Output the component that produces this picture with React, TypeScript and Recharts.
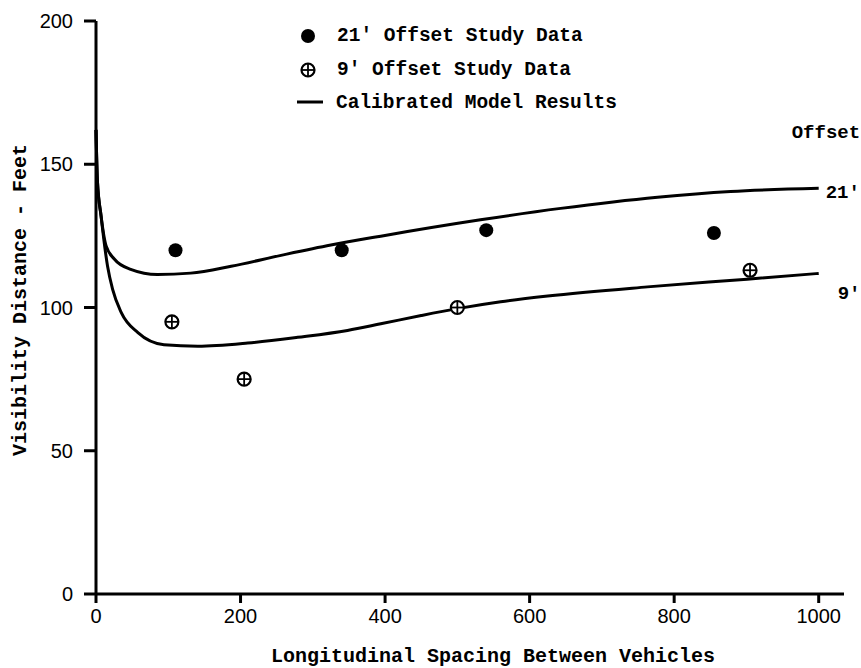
import { ComposedChart, Line, Scatter, XAxis, YAxis, Legend } from "recharts";

// x = longitudinal spacing between vehicles (ft), y = visibility distance (ft)
const xTicks = [0, 200, 400, 600, 800, 1000];
const yTicks = [0, 50, 100, 150, 200];

// calibrated model results
const model21: [number, number][] = [
    [0, 162], [2, 144], [7, 132], [14, 121.5], [25, 117], [48, 113.3], [85, 111.5],
    [131, 112.0], [187, 114.4], [256, 118.2], [325, 121.8], [394, 124.9], [532, 130.6],
    [643, 134.6], [777, 138.5], [878, 140.5], [1000, 141.6],
];
const model9: [number, number][] = [
    [0, 162], [2, 144], [7, 132], [16, 114.4], [23, 106.3], [35, 98.2], [58, 91.2],
    [94, 87], [141, 86.5], [210, 87.6], [279, 89.6], [348, 92.0], [394, 94.3],
    [450, 97.2], [500, 99.6], [560, 102.0], [625, 104.0], [763, 107.2], [901, 109.9], [1000, 111.9],
];

// study data
const study21: [number, number][] = [[110, 120], [340, 120], [540, 127], [855, 126]];
const study9: [number, number][] = [[105, 95], [205, 75], [500, 100], [905, 113]];

const toPoints = (rows: [number, number][]) => rows.map(([x, y]) => ({ x, y }));

const mono = "'Liberation Mono', 'Courier New', monospace";
const sans = "'Liberation Sans', Arial, sans-serif";

const FilledDot = (props: any) => <circle cx={props.cx} cy={props.cy} r={7} fill="#000" />;

const CrossDot = (props: any) => {
    const { cx, cy } = props;
    return (
        <g>
            <circle cx={cx} cy={cy} r={6.5} fill="#fff" stroke="#000" strokeWidth={2.2} />
            <line x1={cx - 6.5} x2={cx + 6.5} y1={cy} y2={cy} stroke="#000" strokeWidth={1.8} />
            <line x1={cx} x2={cx} y1={cy - 6.5} y2={cy + 6.5} stroke="#000" strokeWidth={1.8} />
        </g>
    );
};

const textStyle = { fontFamily: mono, fontWeight: 700, fill: "#000" };

const renderLegend = () => (
    <svg width={861} height={130}>
        <circle cx={308} cy={36} r={7} fill="#000" />
        <text x={337} y={41} fontSize={19.5} {...textStyle}>21' Offset Study Data</text>
        <CrossDot cx={308} cy={70} />
        <text x={337} y={75} fontSize={19.5} {...textStyle}>9' Offset Study Data</text>
        <line x1={297} x2={323} y1={102} y2={102} stroke="#000" strokeWidth={3} />
        <text x={336} y={108} fontSize={19.5} {...textStyle}>Calibrated Model Results</text>
    </svg>
);

const endLabel21 = (props: any) => {
    if (props.index !== model21.length - 1) return null;
    return (
        <g>
            <text x={props.x - 27} y={props.y - 50} fontSize={19} {...textStyle}>Offset</text>
            <text x={props.x + 7} y={props.y + 10} fontSize={19} {...textStyle}>21'</text>
        </g>
    );
};

const endLabel9 = (props: any) => {
    if (props.index !== model9.length - 1) return null;
    return <text x={props.x + 19} y={props.y + 26} fontSize={19} {...textStyle}>9'</text>;
};

const axisStroke = { stroke: "#000", strokeWidth: 3 };
const tickFont = { fill: "#000", fontSize: 20, fontFamily: sans };

export default function App() {
    return (
        <div style={{ position: "absolute", left: 0, top: 0, width: 861, height: 668, background: "#fff" }}>
            <ComposedChart width={861} height={668} margin={{ top: 21, right: 17, bottom: 0, left: 0 }}>
                <XAxis
                    type="number"
                    dataKey="x"
                    domain={[0, 1035]}
                    ticks={xTicks}
                    height={74}
                    tickSize={9}
                    tickMargin={6}
                    axisLine={axisStroke}
                    tickLine={axisStroke}
                    tick={tickFont}
                    label={{
                        content: ({ viewBox }: any) => (
                            <text
                                x={viewBox.x + viewBox.width / 2 + 23}
                                y={viewBox.y + 68}
                                textAnchor="middle"
                                fontSize={20}
                                {...textStyle}
                            >
                                Longitudinal Spacing Between Vehicles
                            </text>
                        ),
                    }}
                />
                <YAxis
                    type="number"
                    dataKey="y"
                    domain={[0, 200]}
                    ticks={yTicks}
                    width={96}
                    tickSize={12}
                    tickMargin={11}
                    axisLine={axisStroke}
                    tickLine={axisStroke}
                    tick={tickFont}
                    label={{
                        content: ({ viewBox }: any) => {
                            const cx = viewBox.x + 20;
                            const cy = viewBox.y + 279;
                            return (
                                <text
                                    x={cx}
                                    y={cy}
                                    transform={`rotate(-90 ${cx} ${cy})`}
                                    textAnchor="middle"
                                    dominantBaseline="central"
                                    fontSize={20}
                                    {...textStyle}
                                >
                                    Visibility Distance - Feet
                                </text>
                            );
                        },
                    }}
                />
                <Legend
                    layout="horizontal"
                    verticalAlign="middle"
                    align="center"
                    content={renderLegend}
                    wrapperStyle={{ position: "absolute", left: 0, top: 0, width: 861, height: 130 }}
                />
                <Line
                    data={toPoints(model21)}
                    dataKey="y"
                    type="monotone"
                    stroke="#000"
                    strokeWidth={3}
                    dot={false}
                    activeDot={false}
                    label={endLabel21}
                    isAnimationActive={false}
                />
                <Line
                    data={toPoints(model9)}
                    dataKey="y"
                    type="monotone"
                    stroke="#000"
                    strokeWidth={3}
                    dot={false}
                    activeDot={false}
                    label={endLabel9}
                    isAnimationActive={false}
                />
                <Scatter data={toPoints(study21)} dataKey="y" shape={FilledDot} isAnimationActive={false} />
                <Scatter data={toPoints(study9)} dataKey="y" shape={CrossDot} isAnimationActive={false} />
            </ComposedChart>
        </div>
    );
}
